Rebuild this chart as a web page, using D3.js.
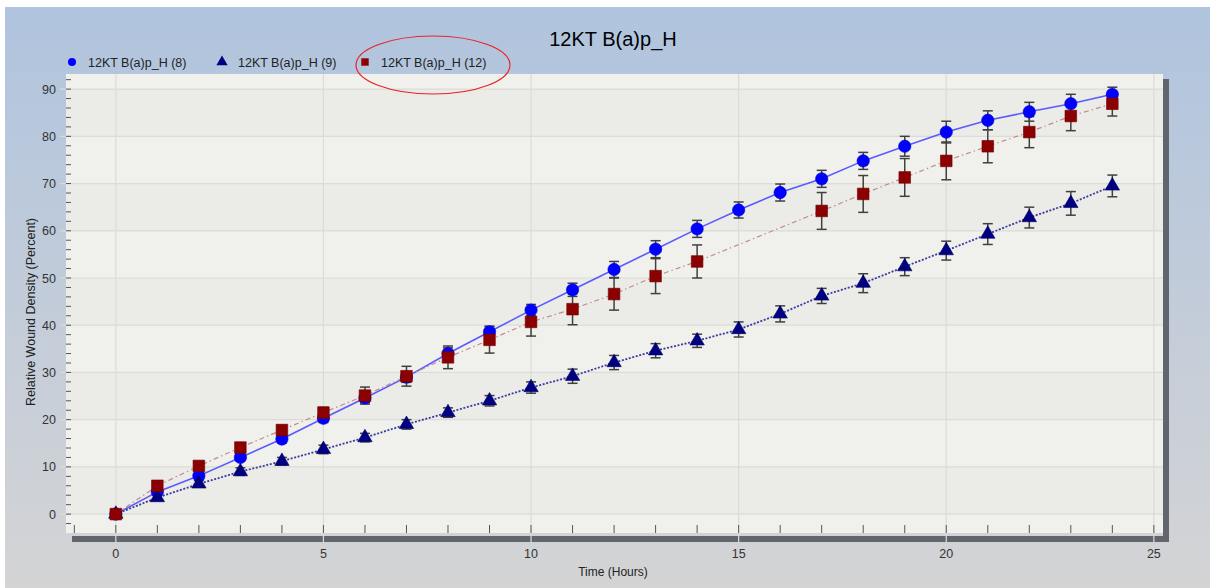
<!DOCTYPE html>
<html>
<head>
<meta charset="utf-8">
<title>12KT B(a)p_H</title>
<script src="https://cdn.jsdelivr.net/npm/d3@7/dist/d3.min.js"></script>
<style>
    body { margin: 0; background: #fff; }
    svg { display: block; font-family: "Liberation Sans", Arial, sans-serif; }
    .tick-label { font-size: 12.5px; fill: #333; }
</style>
</head>
<body>
<div id="chart"></div>
<script>
// data
const hours = d3.range(0, 25);
const series8 = [0, 4.7, 8.1, 12.0, 15.9, 20.3, 24.6, 29.0, 34.0, 38.6, 43.2, 47.5, 51.8, 56.1, 60.4, 64.4, 68.1, 71.0, 74.8, 77.9, 80.9, 83.4, 85.2, 86.9, 88.9];
const series8Err = [0.3, 0.5, 0.6, 0.7, 0.8, 0.9, 1.0, 1.1, 1.2, 1.2, 1.2, 1.4, 1.7, 1.8, 1.8, 1.7, 1.8, 1.8, 1.8, 2.1, 2.3, 2.0, 2.0, 2.0, 1.5];
const series9 = [0, 3.5, 6.4, 9.0, 11.2, 13.7, 16.2, 19.0, 21.5, 24.0, 26.8, 29.2, 32.1, 34.6, 36.7, 39.1, 42.4, 46.2, 48.9, 52.4, 55.8, 59.3, 62.8, 65.8, 69.5];
const series9Err = [0.2, 0.6, 0.7, 0.8, 0.8, 0.9, 0.9, 1.0, 1.0, 1.1, 1.2, 1.5, 1.5, 1.5, 1.4, 1.6, 1.7, 1.6, 2.0, 1.9, 2.0, 2.2, 2.2, 2.5, 2.3];
const series12 = [0, 6.0, 10.2, 14.1, 17.8, 21.5, 25.1, 29.2, 33.2, 36.9, 40.7, 43.4, 46.6, 50.4, 53.5, null, null, 64.2, 67.8, 71.3, 74.8, 77.9, 80.9, 84.3, 86.9];
const series12Err = [0.3, 0.6, 0.7, 0.8, 1.0, 1.1, 1.8, 2.1, 2.4, 2.8, 3.0, 3.3, 3.4, 3.7, 3.5, null, null, 3.9, 3.9, 4.0, 4.0, 3.5, 3.3, 3.1, 2.6];
const seriesNames = ["12KT B(a)p_H (8)", "12KT B(a)p_H (9)", "12KT B(a)p_H (12)"];
const xTicks = [0, 5, 10, 15, 20, 25];
const yTicks = [0, 10, 20, 30, 40, 50, 60, 70, 80, 90];

const W = 1210, H = 588;
const plot = {left: 66, top: 74, right: 1163, bottom: 533};

const svg = d3.select('#chart').append('svg')
    .attr('width', W)
    .attr('height', H);

// background gradient
const defs = svg.append('defs');
const grad = defs.append('linearGradient')
    .attr('id', 'bg').attr('x1', 0).attr('y1', 0).attr('x2', 0).attr('y2', 1);
grad.append('stop').attr('offset', '0%').attr('stop-color', '#b0c4de');
grad.append('stop').attr('offset', '100%').attr('stop-color', '#d4d4d5');

svg.append('rect')
    .attr('x', 5).attr('y', 7)
    .attr('width', W - 5).attr('height', H - 7)
    .attr('fill', 'url(#bg)');

const x = d3.scaleLinear().domain([-1.2, 25.22]).range([plot.left, plot.right]);
const y = d3.scaleLinear().domain([-4.0, 93.2]).range([plot.bottom, plot.top]);

// shadow bars
svg.append('rect')
    .attr('x', plot.right).attr('y', plot.top + 5)
    .attr('width', 6).attr('height', plot.bottom - plot.top + 4)
    .attr('fill', '#62666c');
svg.append('rect')
    .attr('x', plot.left + 6).attr('y', plot.bottom + 3)
    .attr('width', plot.right - plot.left).attr('height', 6)
    .attr('fill', '#62666c');

// plot area with faint bands
svg.append('rect')
    .attr('x', plot.left).attr('y', plot.top)
    .attr('width', plot.right - plot.left).attr('height', plot.bottom - plot.top)
    .attr('fill', '#f0f0ec');

const bandEdges = [-4].concat(yTicks).concat([93.2]);
const bands = svg.append('g');
for (let i = 0; i < bandEdges.length - 1; i++) {
    if (i % 2 === 1) {
        bands.append('rect')
            .attr('x', plot.left)
            .attr('y', y(bandEdges[i + 1]))
            .attr('width', plot.right - plot.left)
            .attr('height', y(bandEdges[i]) - y(bandEdges[i + 1]))
            .attr('fill', '#ebebe7');
    }
}

// grid
const grid = svg.append('g').attr('stroke', '#dcdcd7').attr('stroke-width', 1.2);
grid.selectAll('.gx').data(xTicks).enter().append('line')
    .attr('x1', d => x(d)).attr('x2', d => x(d))
    .attr('y1', plot.top).attr('y2', plot.bottom + 9);
grid.selectAll('.gy').data(yTicks).enter().append('line')
    .attr('x1', plot.left - 6).attr('x2', plot.right)
    .attr('y1', d => y(d)).attr('y2', d => y(d));

// x axis ticks and labels
const xMinor = d3.range(-1, 26);
svg.append('g').selectAll('line').data(xMinor).enter().append('line')
    .attr('x1', d => x(d)).attr('x2', d => x(d))
    .attr('y1', plot.bottom - 8).attr('y2', plot.bottom)
    .attr('stroke', '#555').attr('stroke-width', 1);
svg.append('g').selectAll('text').data(xTicks).enter().append('text')
    .attr('class', 'tick-label')
    .attr('x', d => x(d)).attr('y', 558)
    .attr('text-anchor', 'middle')
    .text(d => d);

// y axis ticks and labels
const yMinor = d3.range(-2, 93, 2);
svg.append('g').selectAll('line').data(yMinor).enter().append('line')
    .attr('x1', plot.left).attr('x2', plot.left + 5)
    .attr('y1', d => y(d)).attr('y2', d => y(d))
    .attr('stroke', '#555').attr('stroke-width', 1);
svg.append('g').selectAll('text').data(yTicks).enter().append('text')
    .attr('class', 'tick-label')
    .attr('x', 56).attr('y', d => y(d) + 4.5)
    .attr('text-anchor', 'end')
    .text(d => d);

// titles
svg.append('text')
    .attr('x', 613).attr('y', 46)
    .attr('text-anchor', 'middle')
    .style('font-size', '20px')
    .text('12KT B(a)p_H');
svg.append('text')
    .attr('x', 613).attr('y', 576)
    .attr('text-anchor', 'middle')
    .style('font-size', '12px').attr('fill', '#222')
    .text('Time (Hours)');
svg.append('text')
    .attr('transform', 'translate(35, 312) rotate(-90)')
    .attr('text-anchor', 'middle')
    .style('font-size', '12.5px').attr('fill', '#222')
    .text('Relative Wound Density (Percent)');

// build series
const toPoints = (vals, errs) => hours
    .map((h, i) => ({h, v: vals[i], e: errs[i]}))
    .filter(p => p.v !== null);

const seriesList = [
    {pts: toPoints(series8, series8Err), line: '#5a5aff', dash: null, lw: 1.6, fill: '#0000ff', marker: 'circle', size: 120},
    {pts: toPoints(series9, series9Err), line: '#3b3ba0', dash: '2,1.6', lw: 1.8, fill: '#000080', marker: 'triangle', size: 90},
    {pts: toPoints(series12, series12Err), line: '#c48a8a', dash: '5,3,1.5,3', lw: 1.2, fill: '#8b0000', marker: 'square', size: 135}
];

const lineGen = d3.line().x(p => x(p.h)).y(p => y(p.v));
const plotG = svg.append('g');

// error bars
seriesList.forEach(s => {
    const eg = plotG.append('g').attr('stroke', '#404040').attr('stroke-width', 1.5);
    s.pts.filter(p => p.e > 0.5).forEach(p => {
        const cx = x(p.h);
        eg.append('line').attr('x1', cx).attr('x2', cx)
            .attr('y1', y(p.v - p.e)).attr('y2', y(p.v + p.e));
        [p.v - p.e, p.v + p.e].forEach(v => {
            eg.append('line').attr('x1', cx - 5).attr('x2', cx + 5)
                .attr('y1', y(v)).attr('y2', y(v));
        });
    });
});

// lines
seriesList.forEach(s => {
    plotG.append('path')
        .datum(s.pts)
        .attr('d', lineGen)
        .attr('fill', 'none')
        .attr('stroke', s.line)
        .attr('stroke-width', s.lw)
        .attr('stroke-dasharray', s.dash);
});

// markers
const symbolType = {circle: d3.symbolCircle, triangle: d3.symbolTriangle, square: d3.symbolSquare};
seriesList.forEach(s => {
    plotG.append('g').selectAll('path').data(s.pts).enter().append('path')
        .attr('d', d3.symbol().type(symbolType[s.marker]).size(s.size))
        .attr('transform', p => `translate(${x(p.h)},${y(p.v)})`)
        .attr('fill', s.fill)
        .attr('stroke', d3.color(s.fill).darker(0.6))
        .attr('stroke-width', 0.6);
});

// legend
const legendX = [72, 222, 365];
const legend = svg.append('g');
seriesList.forEach((s, i) => {
    legend.append('path')
        .attr('d', d3.symbol().type(symbolType[s.marker]).size(s.marker === 'circle' ? 50 : 55))
        .attr('transform', `translate(${legendX[i]},62)`)
        .attr('fill', s.fill);
    legend.append('text')
        .attr('x', legendX[i] + 16).attr('y', 66.5)
        .style('font-size', '12.5px').attr('fill', '#222')
        .text(seriesNames[i]);
});

// red annotation ellipse
svg.append('ellipse')
    .attr('cx', 433).attr('cy', 65)
    .attr('rx', 77).attr('ry', 29)
    .attr('fill', 'none')
    .attr('stroke', '#e8232a')
    .attr('stroke-width', 1.2);
</script>
</body>
</html>
